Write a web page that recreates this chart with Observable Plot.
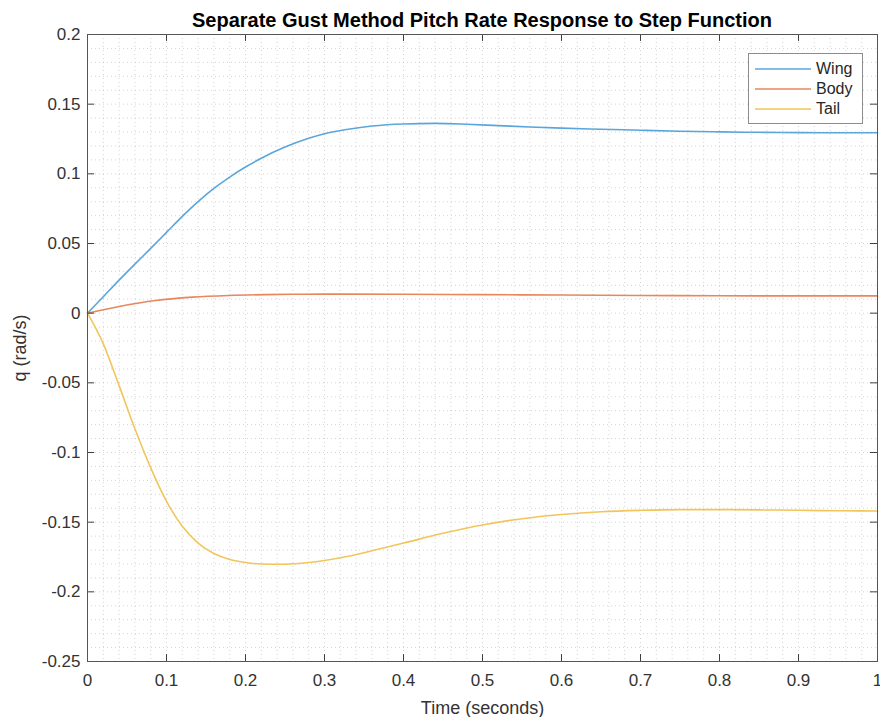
<!DOCTYPE html>
<html>
<head>
<meta charset="utf-8">
<script src="https://cdn.jsdelivr.net/npm/d3@7"></script>
<script src="https://cdn.jsdelivr.net/npm/@observablehq/plot@0.6"></script>
<style>
  body { margin: 0; background: #fff; font-family: "Liberation Sans", Arial, Helvetica, sans-serif; }
  #wrap { position: relative; width: 880px; height: 717px; }
  #title { position: absolute; left: 87px; width: 790px; top: 8px; text-align: center; line-height: 24px;
           font-weight: bold; font-size: 20px; color: #000; }
  #legend { position: absolute; left: 748px; top: 53px; width: 113px; height: 69px;
            border: 1px solid #8c8c8c; background: #fff; font-size: 16px; color: #262626; }
  .row { position: absolute; left: 6px; height: 20px; display: flex; align-items: center; }
  .row svg { margin-right: 5px; }
</style>
</head>
<body>
<div id="wrap">
  <div id="chart"></div>
  <div id="title">Separate Gust Method Pitch Rate Response to Step Function</div>
  <div id="legend"></div>
</div>
<script>
// ---- data ----
const seriesNames = ["Wing", "Body", "Tail"];
const seriesColors = ["#5aa6dc", "#e8875c", "#f2c55c"];

const wingT = [0, 0.02, 0.04, 0.06, 0.08, 0.10, 0.12, 0.14, 0.16, 0.18, 0.20, 0.22, 0.25, 0.28, 0.30, 0.33, 0.36, 0.40, 0.44, 0.48, 0.52, 0.56, 0.60, 0.65, 0.70, 0.75, 0.80, 0.85, 0.90, 0.95, 1.00];
const wingQ = [0, 0.0118, 0.0237, 0.0352, 0.0465, 0.0580, 0.0695, 0.0801, 0.0895, 0.0977, 0.1049, 0.1112, 0.1192, 0.1255, 0.1288, 0.1320, 0.1343, 0.1358, 0.1362, 0.1356, 0.1346, 0.1336, 0.1328, 0.1320, 0.1313, 0.1306, 0.1301, 0.1298, 0.1296, 0.1295, 0.1295];

const bodyT = [0, 0.04, 0.086, 0.133, 0.179, 0.225, 0.272, 0.322, 0.4, 0.5, 0.6, 0.7, 0.8, 0.9, 1.0];
const bodyQ = [0, 0.0048, 0.0091, 0.0115, 0.0127, 0.0133, 0.0136, 0.0137, 0.0136, 0.0133, 0.013, 0.0127, 0.0125, 0.0124, 0.0124];

const tailT = [0, 0.02, 0.04, 0.06, 0.08, 0.10, 0.12, 0.14, 0.16, 0.18, 0.20, 0.22, 0.25, 0.28, 0.30, 0.33, 0.36, 0.40, 0.45, 0.50, 0.55, 0.60, 0.65, 0.70, 0.75, 0.80, 0.85, 0.90, 0.95, 1.00];
const tailQ = [0, -0.022, -0.052, -0.083, -0.111, -0.135, -0.153, -0.165, -0.1725, -0.1768, -0.1790, -0.1800, -0.1802, -0.1790, -0.1775, -0.1745, -0.1705, -0.1650, -0.1580, -0.1520, -0.1475, -0.1445, -0.1425, -0.1415, -0.1410, -0.1410, -0.1412, -0.1415, -0.1418, -0.1420];

const xTicks = [0, 0.1, 0.2, 0.3, 0.4, 0.5, 0.6, 0.7, 0.8, 0.9, 1];
const yTicks = [-0.25, -0.2, -0.15, -0.1, -0.05, 0, 0.05, 0.1, 0.15, 0.2];
const xMinor = d3.range(0, 101, 2).map(i => i / 100);
const yMinor = d3.range(-25, 21, 1).map(i => i / 100);

// ---- build tidy table ----
const rows = [];
[[wingT, wingQ], [bodyT, bodyQ], [tailT, tailQ]].forEach(([T, Q], k) => {
  T.forEach((t, i) => rows.push({ series: seriesNames[k], t, q: Q[i] }));
});

const fmt = d => String(+d.toFixed(2));
const textColor = "#333333";
const tickLenY = 0.005;   // y data units
const tickLenX = 0.009;   // x data units

const plot = Plot.plot({
  width: 880,
  height: 717,
  marginTop: 34,
  marginBottom: 56,
  marginLeft: 87,
  marginRight: 3,
  style: { fontFamily: '"Liberation Sans", Arial, Helvetica, sans-serif', color: textColor, background: "#fff" },
  x: { domain: [0, 1], label: null },
  y: { domain: [-0.25, 0.2], label: null },
  color: { domain: seriesNames, range: seriesColors },
  marks: [
    Plot.gridX(xMinor, { stroke: "#b0b0b0", strokeOpacity: 0.55, strokeDasharray: "1,3" }),
    Plot.gridY(yMinor, { stroke: "#b0b0b0", strokeOpacity: 0.55, strokeDasharray: "1,3" }),
    Plot.axisX(xTicks, { anchor: "bottom", tickSize: 0, tickPadding: 12, tickFormat: fmt, fontSize: 17, label: null }),
    Plot.axisX({ anchor: "bottom", ticks: [], tickSize: 0, fontSize: 18,
      label: "Time (seconds)", labelAnchor: "center", labelArrow: "none", labelOffset: 52 }),
    Plot.axisY(yTicks, { anchor: "left", tickSize: 0, tickPadding: 7, tickFormat: fmt, fontSize: 17, label: null }),
    Plot.axisY({ anchor: "left", ticks: [], tickSize: 0, fontSize: 18,
      label: "q (rad/s)", labelAnchor: "center", labelArrow: "none", labelOffset: 74 }),
    Plot.line(rows, { x: "t", y: "q", z: "series", stroke: "series", strokeWidth: 1.6, curve: "monotone-x" }),
    // inward ticks on all four sides
    Plot.ruleX(xTicks, { x: d => d, y1: -0.25, y2: -0.25 + tickLenY, stroke: "#404040" }),
    Plot.ruleX(xTicks, { x: d => d, y1: 0.2, y2: 0.2 - tickLenY, stroke: "#404040" }),
    Plot.ruleY(yTicks, { y: d => d, x1: 0, x2: tickLenX, stroke: "#404040" }),
    Plot.ruleY(yTicks, { y: d => d, x1: 1, x2: 1 - tickLenX, stroke: "#404040" }),
    Plot.frame({ stroke: "#555" })
  ]
});
document.getElementById("chart").appendChild(plot);

// legend
const leg = document.getElementById("legend");
seriesNames.forEach((n, i) => {
  const r = document.createElement("div");
  r.className = "row";
  r.style.top = (5 + i * 20) + "px";
  r.innerHTML = `<svg width="56" height="4"><line x1="0" x2="56" y1="2" y2="2" stroke="${seriesColors[i]}" stroke-width="1.6"/></svg>`;
  const tx = document.createElement("span");
  tx.textContent = n;
  r.appendChild(tx);
  leg.appendChild(r);
});
</script>
</body>
</html>
